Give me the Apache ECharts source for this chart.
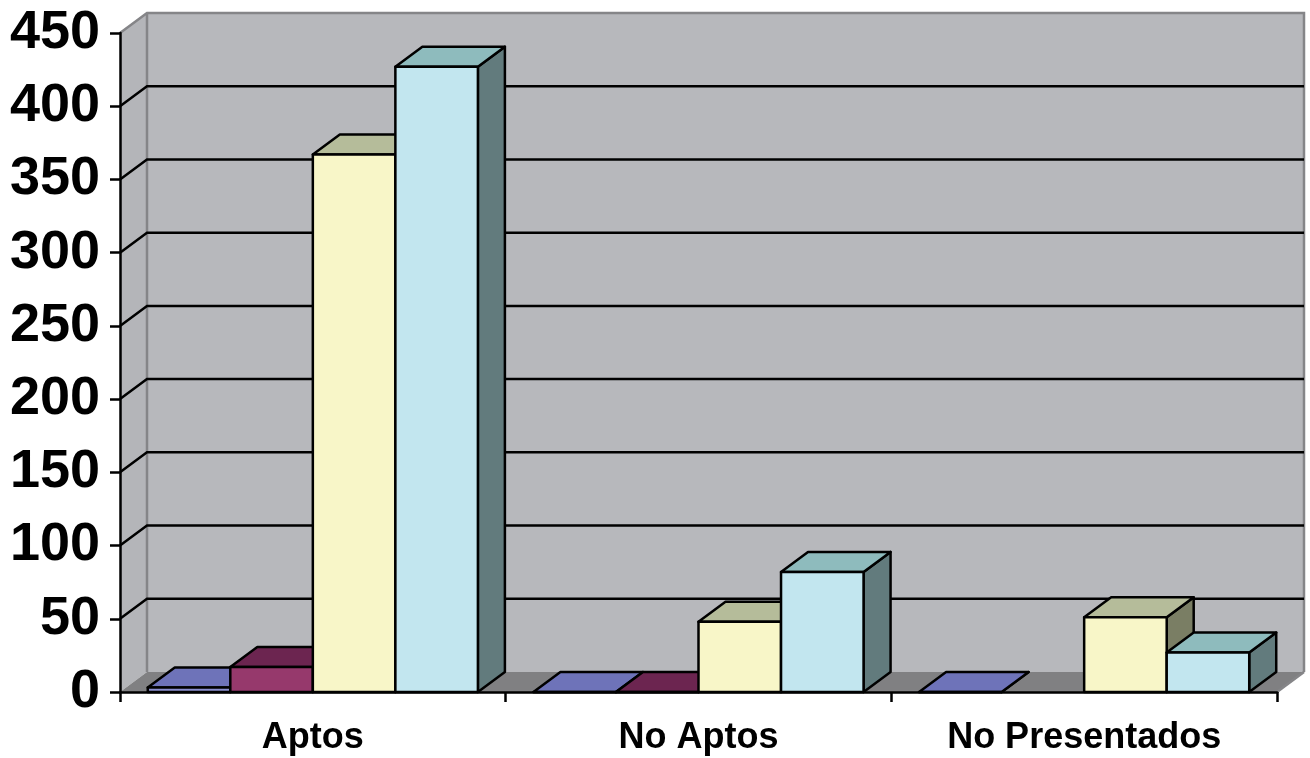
<!DOCTYPE html>
<html>
<head>
<meta charset="utf-8">
<script src="https://cdn.jsdelivr.net/npm/echarts@6/dist/echarts.min.js"></script>
<style>
html,body{margin:0;padding:0;background:#fff;}
#chart{width:1310px;height:758px;}
</style>
</head>
<body>
<div id="chart"></div>
<script>
// ---- data ----
const categories = ['Aptos', 'No Aptos', 'No Presentados'];
const serie1 = [3, 0, 0];
const serie2 = [17, 0, null];
const serie3 = [367, 48, 51];
const serie4 = [427, 82, 27];
const yTicks = [0, 50, 100, 150, 200, 250, 300, 350, 400, 450];

// ---- style ----
const DX = 27, DY = -20;
const faces = [
  { front: '#8c90d0', top: '#6e73b9', side: '#4f5390' },
  { front: '#96396c', top: '#6c2550', side: '#4e1a3a' },
  { front: '#f8f6c8', top: '#b5bc9a', side: '#7a7e64' },
  { front: '#c2e6ef', top: '#8ebbbd', side: '#627b7d' }
];
const seriesValues = [serie1, serie2, serie3, serie4];

function barRender(params, api) {
  const si = params.seriesIndex - 1;
  const ci = api.value(0);
  const v = api.value(1);
  const base = api.coord([ci, 0]);
  const top = api.coord([ci, v]);
  const band = api.size([1, 0])[0];
  const w = band * 0.214;
  const x0 = base[0] - 2 * w + si * w;
  const x1 = x0 + w;
  const yb = base[1], yt = top[1];
  const c = faces[si];
  const st = { stroke: '#000', lineWidth: 2.5, lineJoin: 'round' };
  return {
    type: 'group',
    children: [
      { type: 'polygon', shape: { points: [[x1, yt], [x1 + DX, yt + DY], [x1 + DX, yb + DY], [x1, yb]] },
        style: Object.assign({ fill: c.side }, st) },
      { type: 'polygon', shape: { points: [[x0, yt], [x1, yt], [x1 + DX, yt + DY], [x0 + DX, yt + DY]] },
        style: Object.assign({ fill: c.top }, st) },
      { type: 'polygon', shape: { points: [[x0, yt], [x1, yt], [x1, yb], [x0, yb]] },
        style: Object.assign({ fill: c.front }, st) }
    ]
  };
}

function frameRender(params, api) {
  const cs = params.coordSys;
  const L = cs.x, R = cs.x + cs.width, T = cs.y, B = cs.y + cs.height;
  const ch = [];
  ch.push({ type: 'polygon', shape: { points: [[L, T], [L + DX, T + DY], [L + DX, B + DY], [L, B]] },
    style: { fill: '#b4b5b9' } });
  ch.push({ type: 'polygon', shape: { points: [[L + DX, T + DY], [R + DX, T + DY], [R + DX, B + DY], [L + DX, B + DY]] },
    style: { fill: '#b7b8bc' } });
  ch.push({ type: 'polygon', shape: { points: [[L, B], [L + DX, B + DY], [R + DX, B + DY], [R, B]] },
    style: { fill: '#808082' } });
  const edge = { stroke: '#858588', lineWidth: 2.5, fill: null };
  ch.push({ type: 'polyline', shape: { points: [[L, T], [L + DX, T + DY], [R + DX, T + DY], [R + DX, B + DY]] }, style: edge });
  ch.push({ type: 'polyline', shape: { points: [[L + DX, T + DY], [L + DX, B + DY]] }, style: edge });
  ch.push({ type: 'polyline', shape: { points: [[R, B], [R + DX, B + DY]] }, style: edge });
  yTicks.forEach(function (t) {
    if (t === yTicks[0] || t === yTicks[yTicks.length - 1]) return;
    const y = api.coord([0, t])[1];
    ch.push({ type: 'polyline', shape: { points: [[L, y], [L + DX, y + DY], [R + DX, y + DY]] },
      style: { stroke: '#000', lineWidth: 2.5, fill: null } });
  });
  return { type: 'group', children: ch };
}

const series = [{
  type: 'custom', name: 'frame', z: -1, silent: true, clip: false,
  renderItem: frameRender, data: [[0, 0]]
}];
seriesValues.forEach(function (vals, i) {
  const d = [];
  vals.forEach(function (v, ci) { if (v !== null) d.push([ci, v]); });
  series.push({ type: 'custom', name: 'Serie ' + (i + 1), z: 2, clip: false, renderItem: barRender, data: d });
});

const chart = echarts.init(document.getElementById('chart'), null, { renderer: 'canvas' });
chart.setOption({
  animation: false,
  backgroundColor: '#ffffff',
  grid: { left: 120, right: 33, top: 33, bottom: 66, containLabel: false },
  xAxis: {
    type: 'category', data: categories, boundaryGap: true,
    axisLine: { lineStyle: { color: '#000', width: 2.5 } },
    axisTick: { show: true, length: 10, lineStyle: { color: '#000', width: 2.5 } },
    axisLabel: { color: '#000', fontFamily: 'Liberation Sans, Arial, sans-serif', fontWeight: 'bold', fontSize: 36, margin: 28 },
    splitLine: { show: false }
  },
  yAxis: {
    type: 'value', min: 0, max: 450, interval: 50,
    axisLine: { show: true, lineStyle: { color: '#000', width: 2.5 } },
    axisTick: { show: true, length: 10, lineStyle: { color: '#000', width: 2.5 } },
    axisLabel: { color: '#000', fontFamily: 'Liberation Sans, Arial, sans-serif', fontWeight: 'bold', fontSize: 54, margin: 20 },
    splitLine: { show: false }
  },
  series: series
});
</script>
</body>
</html>
